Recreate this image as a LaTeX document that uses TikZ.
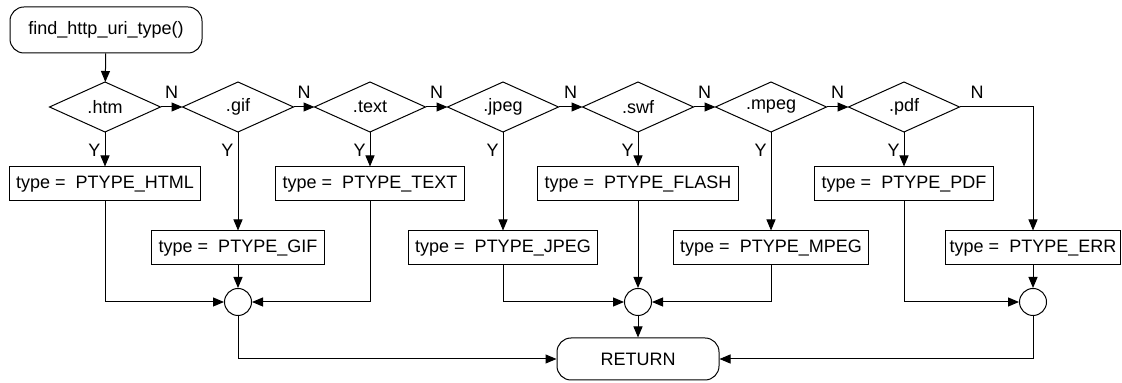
\documentclass[tikz,border=0pt]{standalone}
\usepackage{fontspec}
\setmainfont{Liberation Sans}
\usetikzlibrary{arrows.meta,positioning}
\tikzset{
  flow/.style={-{Triangle[length=5.5pt,width=4.5pt]}},
  decision/.style={rectangle,inner sep=0pt,minimum width=55pt,minimum height=24.5pt},
  process/.style={draw,rectangle,inner xsep=3.5pt,inner ysep=0pt,minimum height=17pt},
  terminal/.style={draw,rectangle,rounded corners=7pt,minimum height=23pt},
  junction/.style={draw,circle,inner sep=0pt,minimum size=13.5pt},
  lbl/.style={inner sep=1pt}
}

\begin{document}
\begin{tikzpicture}[x=0.5pt,y=-0.5pt,line width=0.5pt,font=\fontsize{9}{11}\selectfont]

\useasboundingbox (0,0) rectangle (1122,383);

% Draw the start and the return
\node[terminal,minimum width=96pt] (start) at (106,30) {find\_http\_uri\_type()};
\node[terminal,minimum width=81pt,minimum height=21pt] (ret) at (638,359) {RETURN};

% Draw the row of tests
\node[decision] (htm)  at (105,107) {.htm};
\node[decision] (gif)  at (238,107) {.gif};
\node[decision] (text) at (370,107) {.text};
\node[decision] (jpeg) at (503,107) {.jpeg};
\node[decision] (swf)  at (638,107) {.swf};
\node[decision] (mpeg) at (771,107) {.mpeg};
\node[decision] (pdf)  at (904,107) {.pdf};
\foreach \d in {htm,gif,text,jpeg,swf,mpeg,pdf}
  \draw (\d.west) -- (\d.north) -- (\d.east) -- (\d.south) -- cycle;

% Draw the assignments
\node[process] (tHtml)  at (105,184) {type = \ PTYPE\_HTML};
\node[process] (tText)  at (370,184) {type = \ PTYPE\_TEXT};
\node[process] (tFlash) at (638,184) {type = \ PTYPE\_FLASH};
\node[process] (tPdf)   at (904,184) {type = \ PTYPE\_PDF};
\node[process] (tGif)   at (238,248) {type = \ PTYPE\_GIF};
\node[process] (tJpeg)  at (503,248) {type = \ PTYPE\_JPEG};
\node[process] (tMpeg)  at (771,248) {type = \ PTYPE\_MPEG};
\node[process,inner xsep=2pt] (tErr) at (1033,248) {type = \ PTYPE\_ERR};

% Draw the junctions
\node[junction] (c1) at (238,302) {};
\node[junction] (c2) at (638,302) {};
\node[junction] (c3) at (1033,302) {};

% Draw the N branches
\draw[flow] (start) -- (htm);
\draw[flow] (htm)  -- node[lbl,above=3pt] (nHtm)  {N} (gif);
\draw[flow] (gif)  -- node[lbl,above=3pt] (nGif)  {N} (text);
\draw[flow] (text) -- node[lbl,above=3pt] (nText) {N} (jpeg);
\draw[flow] (jpeg) -- node[lbl,above=3pt] (nJpeg) {N} (swf);
\draw[flow] (swf)  -- node[lbl,above=3pt] (nSwf)  {N} (mpeg);
\draw[flow] (mpeg) -- node[lbl,above=3pt] (nMpeg) {N} (pdf);
\draw[flow] (pdf) -| node[lbl,above=3pt,pos=0.12] (nPdf) {N} (tErr);

% Draw the Y branches and their labels
\draw[flow] (htm)  -- (tHtml);
\draw[flow] (gif)  -- (tGif);
\draw[flow] (text) -- (tText);
\draw[flow] (jpeg) -- (tJpeg);
\draw[flow] (swf)  -- (tFlash);
\draw[flow] (mpeg) -- (tMpeg);
\draw[flow] (pdf)  -- (tPdf);
\node[lbl,below left=4.7pt and 1pt of htm.south]  (yHtm)  {Y};
\node[lbl,below left=4.7pt and 1pt of gif.south]  (yGif)  {Y};
\node[lbl,below left=4.7pt and 1pt of text.south] (yText) {Y};
\node[lbl,below left=4.7pt and 1pt of jpeg.south] (yJpeg) {Y};
\node[lbl,below left=4.7pt and 1pt of swf.south]  (ySwf)  {Y};
\node[lbl,below left=4.7pt and 1pt of mpeg.south] (yMpeg) {Y};
\node[lbl,below left=4.7pt and 1pt of pdf.south]  (yPdf)  {Y};

% Draw the merges
\draw[flow] (tHtml)  |- (c1);
\draw[flow] (tText)  |- (c1);
\draw[flow] (tGif)   -- (c1);
\draw[flow] (tJpeg)  |- (c2);
\draw[flow] (tMpeg)  |- (c2);
\draw[flow] (tFlash) -- (c2);
\draw[flow] (tPdf)   |- (c3);
\draw[flow] (tErr)   -- (c3);
\draw[flow] (c1) |- (ret);
\draw[flow] (c2) -- (ret);
\draw[flow] (c3) |- (ret);

\end{tikzpicture}
\end{document}
